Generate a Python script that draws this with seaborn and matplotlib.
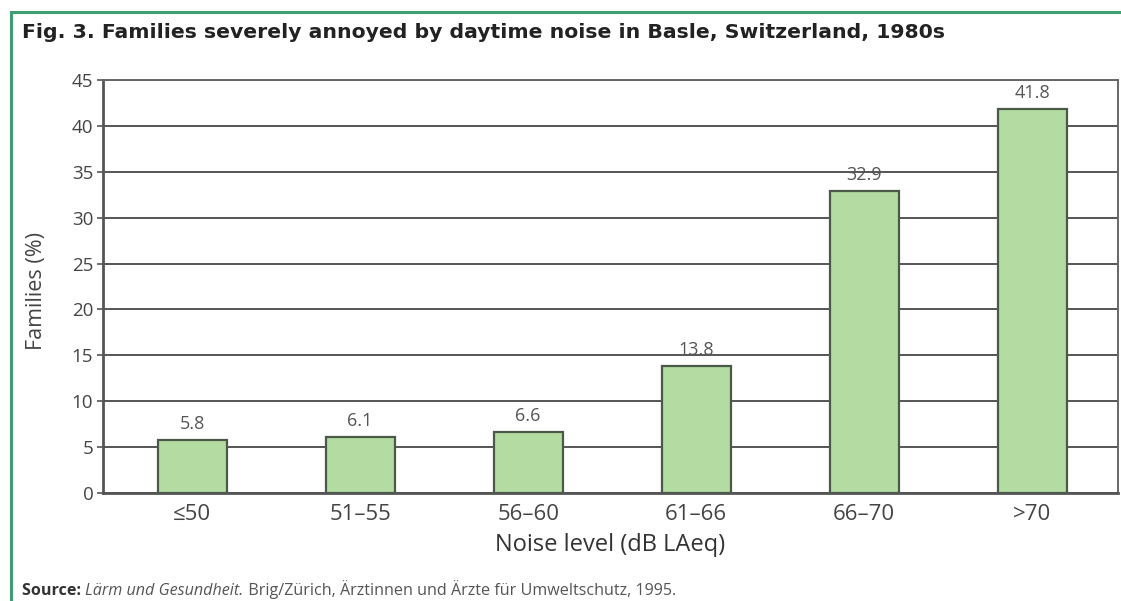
import matplotlib
matplotlib.use("Agg")
import matplotlib.pyplot as plt
import seaborn as sns
import pandas as pd
from matplotlib.patches import Rectangle

categories = ["≤50", "51–55", "56–60", "61–66", "66–70", ">70"]
values = [5.8, 6.1, 6.6, 13.8, 32.9, 41.8]
yticks = [0, 5, 10, 15, 20, 25, 30, 35, 40, 45]

title = "Fig. 3. Families severely annoyed by daytime noise in Basle, Switzerland, 1980s"
xlabel = "Noise level (dB LAeq)"
ylabel = "Families (%)"
source_lead = "Source: "
source_italic = "Lärm und Gesundheit."
source_rest = " Brig/Zürich, Ärztinnen und Ärzte für Umweltschutz, 1995."

sns.set_style("white")
plt.rcParams['font.family'] = ['Open Sans', 'DejaVu Sans']

df = pd.DataFrame({"level": categories, "pct": values})

W, H = 1121, 601
fig = plt.figure(figsize=(W / 100, H / 100), dpi=100)
ax = fig.add_axes([103 / W, (H - 493) / H, (1118 - 103) / W, (493 - 80) / H])

sns.barplot(data=df, x="level", y="pct", ax=ax, color="#b3dba2", width=0.41,
            edgecolor="#4a5a48", linewidth=1.6, saturation=1, zorder=3)

ax.set_ylim(0, 45)
ax.set_yticks(yticks)
ax.set_xlim(-0.53, len(categories) - 0.49)
ax.yaxis.grid(True, color="#555555", linewidth=1.4, zorder=0)
ax.set_axisbelow(True)
for s in ax.spines.values():
    s.set_visible(True)
    s.set_color("#666666")
    s.set_linewidth(1.4)
ax.spines['left'].set_linewidth(2.0)
ax.spines['bottom'].set_linewidth(2.0)
ax.spines['left'].set_color("#555555")
ax.spines['bottom'].set_color("#555555")

ax.tick_params(axis='y', length=4, width=1.2, color="#555555", labelsize=13.5, labelcolor="#444444", pad=3, left=True)
ax.tick_params(axis='x', length=0, labelsize=16, labelcolor="#444444", pad=8)

for i, v in enumerate(values):
    ax.annotate(f"{v:.1f}", (i, v), xytext=(0, 5), textcoords="offset points",
                ha="center", va="bottom", fontsize=13, color="#555555")

ax.set_xlabel(xlabel, fontsize=17, color="#333333", labelpad=6)
ax.set_ylabel(ylabel, fontsize=15.5, color="#444444")
ax.yaxis.set_label_coords((47 - 103) / 1015, 0.49)

fig.text(22 / W, 1 - 38 / H, title, fontsize=14.7, fontweight="bold", color="#222222",
         ha="left", va="baseline", family="DejaVu Sans")

yb = 1 - 595 / H
t1 = fig.text(22 / W, yb, source_lead, fontsize=11.6, fontweight="bold", color="#333333",
              ha="left", va="baseline")
fig.canvas.draw()
r = fig.canvas.get_renderer()
bb = t1.get_window_extent(r)
t2 = fig.text(bb.x1 / W, yb, source_italic, fontsize=11.6, color="#555555",
              ha="left", va="baseline", style="italic")
bb2 = t2.get_window_extent(r)
fig.text(bb2.x1 / W, yb, source_rest, fontsize=11.6, color="#555555",
         ha="left", va="baseline")

# green frame
fig.patches.append(Rectangle((11 / W, -0.05), 1.2, 1 - 12 / H + 0.05, transform=fig.transFigure,
                             fill=False, edgecolor="#3f9f72", linewidth=2.2))

fig.savefig("out.png", dpi=100, facecolor="white")
